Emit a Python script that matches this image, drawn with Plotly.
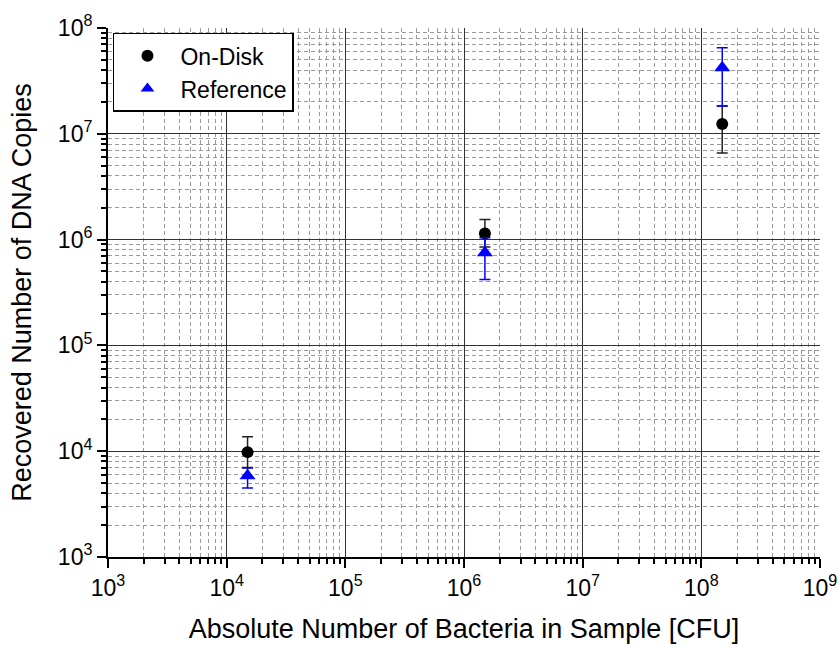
import plotly.graph_objects as go

# Data
bacteria_cfu = [1.5e4, 1.5e6, 1.5e8]

ondisk_y = [9.8e3, 1.14e6, 1.24e7]
ondisk_hi = [1.37e4, 1.55e6, 1.83e7]
ondisk_lo = [7.0e3, 8.5e5, 6.6e6]

ref_y = [5.85e3, 7.5e5, 4.2e7]
ref_hi = [6.95e3, 1.04e6, 6.5e7]
ref_lo = [4.5e3, 4.2e5, 1.83e7]

x_tick_exps = [3, 4, 5, 6, 7, 8, 9]
y_tick_exps = [3, 4, 5, 6, 7, 8]

x_tickvals = [10 ** e for e in x_tick_exps]
x_ticktext = ["10<sup>%d</sup>" % e for e in x_tick_exps]
y_tickvals = [10 ** e for e in y_tick_exps]
y_ticktext = ["10<sup>%d</sup>" % e for e in y_tick_exps]

def errs(y, hi, lo):
    return [h - v for v, h in zip(y, hi)], [v - l for v, l in zip(y, lo)]

od_plus, od_minus = errs(ondisk_y, ondisk_hi, ondisk_lo)
rf_plus, rf_minus = errs(ref_y, ref_hi, ref_lo)

fig = go.Figure()
fig.add_trace(go.Scatter(
    x=bacteria_cfu, y=ondisk_y, mode="markers", name="On-Disk",
    marker=dict(symbol="circle", size=12, color="black"),
    error_y=dict(type="data", symmetric=False, array=od_plus, arrayminus=od_minus,
                 color="#222222", thickness=1.5, width=5.5),
))
fig.add_trace(go.Scatter(
    x=bacteria_cfu, y=ref_y, mode="markers", name="Reference",
    marker=dict(symbol="triangle-up", size=14, color="#0000ff"),
    error_y=dict(type="data", symmetric=False, array=rf_plus, arrayminus=rf_minus,
                 color="#0000ff", thickness=1.5, width=5.5),
))

font_family = "Liberation Sans, Arial, sans-serif"

common_axis = dict(
    type="log", automargin=False,
    showline=True, linecolor="black", linewidth=2,
    ticks="outside", ticklen=9, tickwidth=2, tickcolor="black",
    showgrid=True, gridcolor="#333333", gridwidth=1,
    zeroline=False, mirror=False,
    tickfont=dict(family=font_family, size=23, color="black"),
    minor=dict(ticks="outside", ticklen=5, tickwidth=1.5, tickcolor="black",
               showgrid=True, gridcolor="#9a9a9a", griddash="4px,3px", gridwidth=1,
               dtick="D1"),
)

fig.update_layout(
    width=840, height=646,
    paper_bgcolor="white", plot_bgcolor="white",
    margin=dict(l=108, r=20, t=28, b=89),
    showlegend=True,
    legend=dict(x=0.007, y=0.991, xanchor="left", yanchor="top",
                bgcolor="white", bordercolor="black", borderwidth=1.5,
                font=dict(family=font_family, size=23, color="black"),
                itemsizing="constant", itemwidth=56, tracegroupgap=0),
    xaxis=dict(common_axis, range=[3, 9], tickvals=x_tickvals, ticktext=x_ticktext,
               title=dict(text="Absolute Number of Bacteria in Sample [CFU]",
                          font=dict(family=font_family, size=27, color="black"),
                          standoff=20)),
    yaxis=dict(common_axis, range=[3, 8], tickvals=y_tickvals, ticktext=y_ticktext,
               title=dict(text="Recovered Number of DNA Copies",
                          font=dict(family=font_family, size=27, color="black"),
                          standoff=18)),
)

fig.write_html("out.html",
               config={"displayModeBar": False},
               post_script="document.body.style.margin='0px';document.body.style.overflow='hidden';")
